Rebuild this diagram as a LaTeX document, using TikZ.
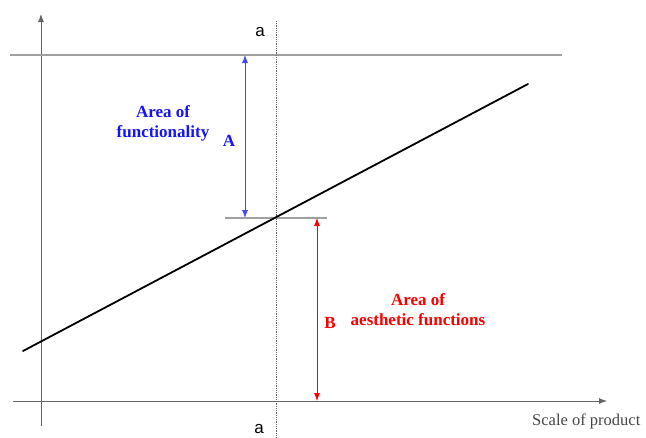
\documentclass[tikz,border=0pt]{standalone}
\usepackage{fontspec}
\setmainfont{Liberation Serif}
\newfontfamily\arialfont{Liberation Sans}
\usetikzlibrary{arrows.meta,positioning}
\definecolor{axisgray}{RGB}{100,100,100}
\definecolor{guidegray}{RGB}{160,160,160}
\definecolor{funcblue}{RGB}{20,20,250}
\definecolor{funcarrow}{RGB}{70,70,255}
\definecolor{aesthred}{RGB}{250,0,0}

\begin{document}
\begin{tikzpicture}[
    x=1pt, y=-1pt,
    axis/.style={draw=axisgray, line width=0.9pt, -{Latex[length=8pt,width=6pt]}},
    guide/.style={draw=guidegray, line width=1.2pt},
    dim/.style={line width=0.8pt, {Latex[length=8pt,width=6pt]}-{Latex[length=8pt,width=6pt]}},
    label/.style={font=\bfseries\fontsize{17}{20}\selectfont, align=center, inner sep=0pt},
    letter/.style={font=\arialfont\fontsize{17}{20}\selectfont, inner sep=0pt}
]
    \useasboundingbox (0,0) rectangle (646,437);

    % axes
    \coordinate (ybot) at (41,426);
    \coordinate (ytop) at (41,14);
    \coordinate (xleft) at (13,401);
    \coordinate (xright) at (607,401);
    \draw[axis] (ybot) -- (ytop);
    \draw[axis] (xleft) -- (xright);

    % guide lines
    \coordinate (topl) at (10,55);
    \coordinate (topr) at (562,55);
    \draw[guide] (topl) -- (topr);
    \coordinate (midl) at (225,218);
    \coordinate (midr) at (327,218);
    \draw[guide] (midl) -- (midr);

    % section a--a
    \node[letter] (atop) at (260,32) {a};
    \node[letter] (abot) at (259,429) {a};
    \coordinate (sectop) at (276,21);
    \coordinate (secbot) at (276,437);
    \draw[densely dotted, draw=axisgray, line width=0.8pt] (sectop) -- (secbot);

    % trend line
    \coordinate (lstart) at (23,351);
    \coordinate (lend) at (528,84);
    \draw[line width=1.8pt, line cap=round] (lstart) -- (lend);

    % dimension arrows
    \coordinate (atop1) at (245,55);
    \coordinate (abot1) at (245,218);
    \draw[dim, draw=funcarrow, fill=funcarrow] (atop1) -- (abot1);
    \coordinate (btop1) at (317,218);
    \coordinate (bbot1) at (317,401);
    \draw[dim, draw=aesthred, fill=aesthred] (btop1) -- (bbot1);

    % labels
    \node[label, text=funcblue] (func) at (163,123) {Area of\\functionality};
    \node[label, text=funcblue] (lblA) at (229,141) {A};
    \node[label, text=aesthred] (lblB) at (330,323) {B};
    \node[label, text=aesthred] (aesth) at (418,310) {Area of\\aesthetic functions};
    \node[font=\fontsize{16.5}{20}\selectfont, text=axisgray!70!black, inner sep=0pt, anchor=west] (scale) at (532,421) {Scale of product};
\end{tikzpicture}
\end{document}
